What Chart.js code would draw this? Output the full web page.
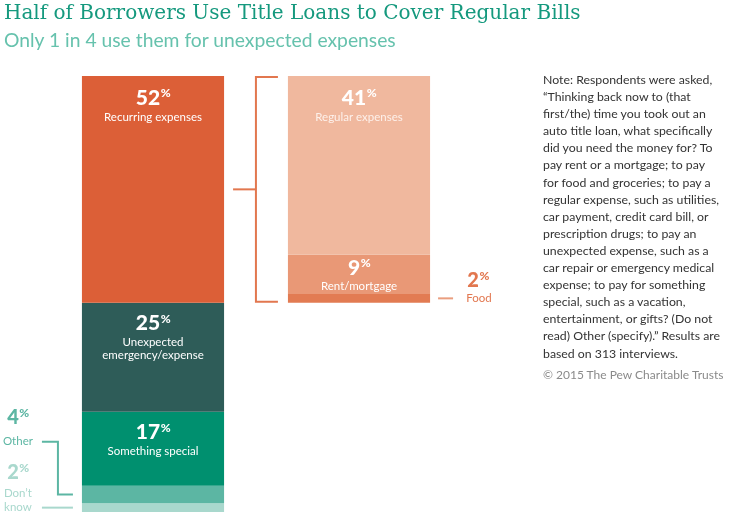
<!DOCTYPE html>
<html>
<head>
<meta charset="utf-8">
<script src="https://cdn.jsdelivr.net/npm/chart.js@4/dist/chart.umd.min.js"></script>
<style>
  html, body { margin: 0; padding: 0; background: #fff; }
  body { width: 736px; height: 519px; position: relative; overflow: hidden; }
  #title { position: absolute; left: 4px; top: 0px; font-family: "DejaVu Serif", serif; font-size: 20px; color: #15997e; white-space: nowrap; }
  #subtitle { position: absolute; left: 4px; top: 28px; font-family: Lato, sans-serif; font-size: 19.3px; color: #66c2ad; white-space: nowrap; }
  #note { position: absolute; left: 543px; top: 71px; width: 192px; font-family: Lato, sans-serif; font-size: 12.3px; line-height: 17.1px; color: #333; }
  #credit { position: absolute; left: 543px; top: 367px; font-family: Lato, sans-serif; font-size: 12px; color: #8a8a8a; white-space: nowrap; }
  canvas { position: absolute; left: 0; top: 0; }
</style>
</head>
<body>
<canvas id="myChart" width="736" height="519"></canvas>
<div id="title">Half of Borrowers Use Title Loans to Cover Regular Bills</div>
<div id="subtitle">Only 1 in 4 use them for unexpected expenses</div>
<div id="note">Note: Respondents were asked,<br>“Thinking back now to (that<br>first/the) time you took out an<br>auto title loan, what specifically<br>did you need the money for? To<br>pay rent or a mortgage; to pay<br>for food and groceries; to pay a<br>regular expense, such as utilities,<br>car payment, credit card bill, or<br>prescription drugs; to pay an<br>unexpected expense, such as a<br>car repair or emergency medical<br>expense; to pay for something<br>special, such as a vacation,<br>entertainment, or gifts? (Do not<br>read) Other (specify).” Results are<br>based on 313 interviews.</div>
<div id="credit">© 2015 The Pew Charitable Trusts</div>
<script>
(() => {
    'use strict'

    // Data
    const bars = ['All uses', 'Recurring breakdown']
    const recurring = [52, null]
    const unexpected = [25, null]
    const special = [17, null]
    const other = [4, null]
    const dontKnow = [2, null]
    const regular = [null, 41]
    const rent = [null, 9]
    const food = [null, 2]

    const segLabels = ['Recurring expenses', 'Unexpected\nemergency/expense', 'Something special', 'Other', 'Don\u2019t\nknow', 'Regular expenses', 'Rent/mortgage', 'Food']
    const colors = ['#dc5f37', '#2e5c58', '#00906f', '#5cb6a3', '#a9d8cd', '#f0b89e', '#e99876', '#e27b52']

    const series = [recurring, unexpected, special, other, dontKnow, regular, rent, food]

    const font = 'Lato, "Open Sans", sans-serif'

    function pct(ctx, value, x, y, color, size) {
        ctx.fillStyle = color
        ctx.textBaseline = 'middle'
        const big = '900 ' + size + 'px ' + font
        const small = '900 ' + Math.round(size * 0.58) + 'px ' + font
        const s = String(value)
        ctx.font = big
        const w = ctx.measureText(s).width
        ctx.font = small
        const pw = ctx.measureText('%').width
        const left = x - (w + pw) / 2
        ctx.textAlign = 'left'
        ctx.font = big
        ctx.fillText(s, left, y)
        ctx.font = small
        ctx.fillText('%', left + w + 0.5, y - size * 0.22)
    }

    function text(ctx, lines, x, y, color, lh) {
        ctx.fillStyle = color
        ctx.font = '11.5px ' + font
        ctx.textAlign = 'center'
        ctx.textBaseline = 'middle'
        lines.split('\n').forEach((l, i) => ctx.fillText(l, x, y + i * lh))
    }

    function line(ctx, pts, color) {
        ctx.strokeStyle = color
        ctx.lineWidth = 2
        ctx.beginPath()
        pts.forEach((p, i) => i ? ctx.lineTo(p[0], p[1]) : ctx.moveTo(p[0], p[1]))
        ctx.stroke()
    }

    const labelsPlugin = {
        id: 'segLabels',
        afterDatasetsDraw(chart) {
            const ctx = chart.ctx
            const seg = (ds, idx) => {
                const el = chart.getDatasetMeta(ds).data[idx]
                const half = el.width / 2
                return { x: el.x, top: Math.min(el.y, el.base), bottom: Math.max(el.y, el.base), left: el.x - half, right: el.x + half }
            }
            ctx.save()
            // inside labels
            const inside = [[0, 0, 22, '#fff'], [1, 0, 21, '#fff'], [2, 0, 21, '#fff'], [5, 1, 22, '#fdf0ea'], [6, 1, 13, '#fff']]
            inside.forEach(([ds, idx, off, col]) => {
                const s = seg(ds, idx)
                pct(ctx, series[ds][idx], s.x, s.top + off, '#fff', 21)
                text(ctx, segLabels[ds], s.x, s.top + off + 19, col, 13)
            })

            // left side: other / don't know
            const o = seg(3, 0)
            const d = seg(4, 0)
            const lx = o.left - 64
            pct(ctx, other[0], lx, o.top - 68, colors[3], 20)
            text(ctx, segLabels[3], lx, o.top - 45, colors[3], 13)
            pct(ctx, dontKnow[0], lx, o.top - 13, colors[4], 20)
            text(ctx, segLabels[4], lx, o.top + 7, colors[4], 14)
            line(ctx, [[o.left - 40, o.top - 44], [o.left - 24, o.top - 44], [o.left - 24, (o.top + o.bottom) / 2], [o.left - 9, (o.top + o.bottom) / 2]], colors[3])
            line(ctx, [[d.left - 40, (d.top + d.bottom) / 2], [d.left - 9, (d.top + d.bottom) / 2]], colors[4])

            // right bracket grouping recurring breakdown
            const r = seg(5, 1)
            const f = seg(7, 1)
            const l0 = seg(0, 0)
            const bx = r.left - 32
            const mid = (r.top + f.bottom) / 2
            const orange = '#e2774f'
            line(ctx, [[r.left - 10, r.top + 1], [bx, r.top + 1], [bx, f.bottom - 1], [r.left - 10, f.bottom - 1]], orange)
            line(ctx, [[l0.right + 9, mid], [bx, mid]], orange)

            // food callout
            const fy = (f.top + f.bottom) / 2
            line(ctx, [[f.right + 8, fy], [f.right + 23, fy]], '#ea9e7f')
            pct(ctx, food[1], f.right + 48, fy - 18, orange, 20)
            text(ctx, segLabels[7], f.right + 49, fy, orange, 13)
            ctx.restore()
        }
    }

    const ctx = document.getElementById('myChart')

    new Chart(ctx, {
        type: 'bar',
        data: {
            labels: bars,
            datasets: series.map((d, i) => ({
                label: segLabels[i],
                data: d,
                backgroundColor: colors[i],
                borderWidth: 0,
                stack: 'one',
                barPercentage: 0.69,
                categoryPercentage: 1
            }))
        },
        options: {
            responsive: false,
            animation: false,
            layout: { padding: { left: 50, right: 274, top: 76, bottom: 7 } },
            scales: {
                x: { display: false, stacked: true },
                y: { display: false, stacked: true, reverse: true, min: 0, max: 100 }
            },
            plugins: {
                legend: { display: false },
                tooltip: { enabled: false }
            }
        },
        plugins: [labelsPlugin]
    })
})()
</script>
</body>
</html>
